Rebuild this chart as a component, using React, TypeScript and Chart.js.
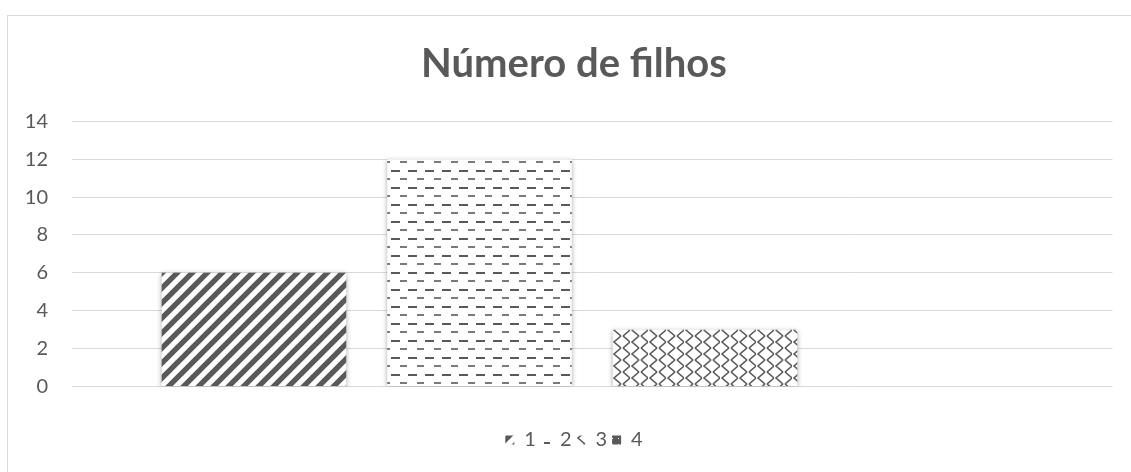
import React, { useEffect, useRef } from "react";
import { Chart, registerables } from "chart.js";

Chart.register(...registerables);

// ---- data ----
const categories = [""];
const seriesLabels = ["1", "2", "3", "4"];
const seriesValues = [6, 12, 3, 0];
const yMin = 0;
const yMax = 14;
const yStep = 2;
const titleText = "Número de filhos";

const INK = "#595959";
const GRID = "#d9d9d9";
const FONT = "Lato, 'Open Sans', sans-serif";

function tile(w: number, h: number, draw: (g: CanvasRenderingContext2D) => void) {
  const c = document.createElement("canvas");
  c.width = w;
  c.height = h;
  const g = c.getContext("2d")!;
  g.fillStyle = "#ffffff";
  g.fillRect(0, 0, w, h);
  draw(g);
  return c;
}

function makePatterns(ctx: CanvasRenderingContext2D): (CanvasPattern | string)[] {
  // 1: wide upward diagonal
  const t1 = tile(15, 15, (g) => {
    g.strokeStyle = INK;
    g.lineWidth = 5.4;
    g.beginPath();
    for (const k of [-30, -15, 0, 15, 30]) {
      g.moveTo(k - 8, 23);
      g.lineTo(k + 23, -8);
    }
    g.stroke();
  });
  const p1 = ctx.createPattern(t1, "repeat")!;

  // 2: dashed horizontal
  const t2 = tile(17, 17, (g) => {
    g.fillStyle = INK;
    g.fillRect(0, 0, 9, 2);
    g.fillStyle = "#7a7a7a";
    g.fillRect(9, 8, 7, 2);
  });
  const p2 = ctx.createPattern(t2, "repeat")!;

  // 3: zig zag
  const t3 = tile(18, 12, (g) => {
    g.strokeStyle = INK;
    g.lineWidth = 1.6;
    g.beginPath();
    g.moveTo(9, 0);
    g.lineTo(2, 6);
    g.lineTo(9, 12);
    g.moveTo(18, 6);
    g.lineTo(11, 12);
    g.moveTo(18, 6);
    g.lineTo(11, 0);
    g.stroke();
  });
  const p3 = ctx.createPattern(t3, "repeat")!;

  // 4: dense dark dots
  const t4 = tile(6, 6, (g) => {
    g.fillStyle = INK;
    g.fillRect(0, 0, 6, 6);
    g.fillStyle = "#ffffff";
    g.fillRect(0, 0, 1, 1);
  });
  const p4 = ctx.createPattern(t4, "repeat")!;

  return [p1, p2, p3, p4];
}

const shadowPlugin = {
  id: "barShadow",
  afterLayout(chart: any) {
    // widen label clip region so tick labels are not cut
    const y = chart.scales.y;
    if (y) y.left = 0;
  },
  beforeDatasetsDraw(chart: any) {
    const c = chart.ctx;
    c.save();
    c.shadowColor = "rgba(0,0,0,0.35)";
    c.shadowBlur = 5;
    c.shadowOffsetX = 0;
    c.shadowOffsetY = 1.5;
  },
  afterDatasetsDraw(chart: any) {
    chart.ctx.restore();
  },
};

export default function App() {
  const ref = useRef<HTMLCanvasElement | null>(null);

  useEffect(() => {
    const canvas = ref.current!;
    const ctx = canvas.getContext("2d")!;
    const patterns = makePatterns(ctx);

    const chart = new Chart(canvas, {
      type: "bar",
      data: {
        labels: categories,
        datasets: seriesLabels.map((lab, i) => ({
          label: lab,
          data: [seriesValues[i]],
          backgroundColor: patterns[i] as any,
          borderWidth: 0,
          categoryPercentage: 0.867,
          barPercentage: 0.818,
        })),
      },
      options: {
        animation: false,
        responsive: false,
        maintainAspectRatio: false,
        layout: { padding: { left: 35.5, right: 18.5, top: 0, bottom: 12 } },
        plugins: {
          title: {
            display: true,
            text: titleText,
            color: INK,
            font: { family: FONT, size: 40, weight: "bold" },
            padding: { top: 40, bottom: 33.3 },
          },
          legend: {
            position: "bottom",
            labels: {
              boxWidth: 9,
              boxHeight: 9,
              padding: 5,
              color: INK,
              font: { family: FONT, size: 20 },
            },
          },
          tooltip: { enabled: false },
        },
        scales: {
          x: {
            grid: { display: false },
            border: { display: false },
            ticks: { display: false },
            afterFit: (s: any) => {
              s.height = s.height + 30.5;
            },
          },
          y: {
            min: yMin,
            max: yMax,
            ticks: {
              stepSize: yStep,
              color: INK,
              font: { family: FONT, size: 20 },
              padding: 24,
            },
            grid: { color: GRID, drawTicks: false, lineWidth: 1 },
            border: { display: false },
            afterFit: (s: any) => {
              s.width = 36.5;
            },
          },
        },
      },
      plugins: [shadowPlugin],
    });

    return () => chart.destroy();
  }, []);

  return (
    <div
      style={{
        position: "fixed",
        left: 0,
        top: 0,
        width: 1131,
        height: 472,
        overflow: "hidden",
        background: "#ffffff",
      }}
    >
      <div
        style={{
          position: "absolute",
          left: 7,
          top: 15,
          width: 1150,
          height: 500,
          border: "1px solid #d9d9d9",
          boxSizing: "border-box",
        }}
      />
      <canvas
        ref={ref}
        width={1131}
        height={472}
        style={{ position: "absolute", left: 0, top: 0, width: 1131, height: 472 }}
      />
    </div>
  );
}
